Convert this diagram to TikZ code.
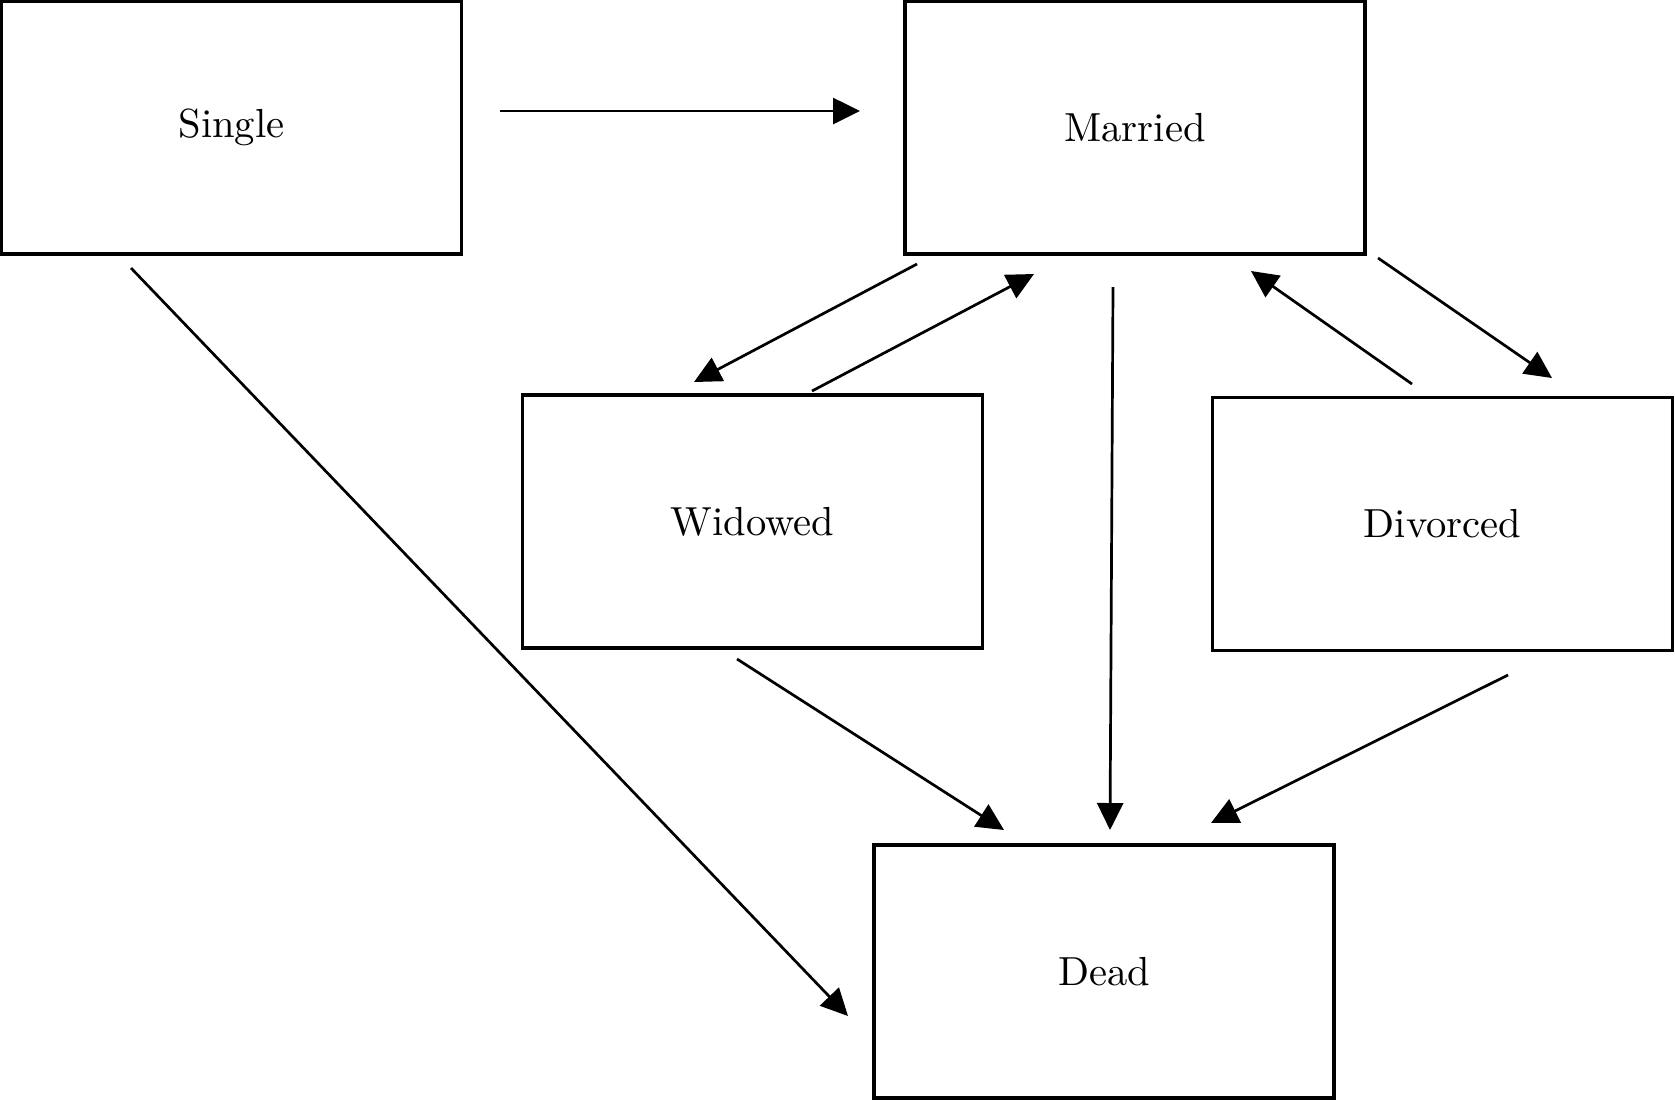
\documentclass[tikz,border=0pt]{standalone}
\usepackage{graphicx}
\usetikzlibrary{arrows.meta}
\newcommand{\boxlabel}[1]{\scalebox{2.03}{#1}}
\begin{document}
\begin{tikzpicture}[x=0.5pt,y=-0.5pt,
  statebox/.style={draw=black,line width=1.6pt,minimum width=230pt,minimum height=126.5pt,
    inner sep=0pt,outer sep=0pt,font=\fontsize{10}{12}\selectfont},
  trans/.style={draw=black,line width=1.35pt,-{Triangle[length=13.5pt,width=13pt]}}]
\useasboundingbox (0,0) rectangle (1675,1100);
\node[statebox] (single) at (231.5,127.5) {\boxlabel{Single}};
\node[statebox] (married) at (1135,127.5) {\boxlabel{Married}};
\node[statebox] (widowed) at (752.5,521.5) {\boxlabel{Widowed}};
\node[statebox] (divorced) at (1442.5,524) {\boxlabel{Divorced}};
\node[statebox] (dead) at (1104,971.5) {\boxlabel{Dead}};
% arrow end points
\coordinate (smS) at (500,111);  \coordinate (smE) at (860,111);
\coordinate (sdS) at (131,268);  \coordinate (sdE) at (848,1016);
\coordinate (mwS) at (917,264);  \coordinate (mwE) at (694,382);
\coordinate (wmS) at (812,391);  \coordinate (wmE) at (1034,274);
\coordinate (mdS) at (1113,287); \coordinate (mdE) at (1110,830);
\coordinate (vmS) at (1412,384); \coordinate (vmE) at (1251,271);
\coordinate (mvS) at (1378,258); \coordinate (mvE) at (1552,378);
\coordinate (wdS) at (737,659);  \coordinate (wdE) at (1004,830);
\coordinate (vdS) at (1508,675); \coordinate (vdE) at (1211,823);
\draw[trans] (smS) -- (smE);
\draw[trans] (sdS) -- (sdE);
\draw[trans] (mwS) -- (mwE);
\draw[trans] (wmS) -- (wmE);
\draw[trans] (mdS) -- (mdE);
\draw[trans] (vmS) -- (vmE);
\draw[trans] (mvS) -- (mvE);
\draw[trans] (wdS) -- (wdE);
\draw[trans] (vdS) -- (vdE);
\end{tikzpicture}
\end{document}
